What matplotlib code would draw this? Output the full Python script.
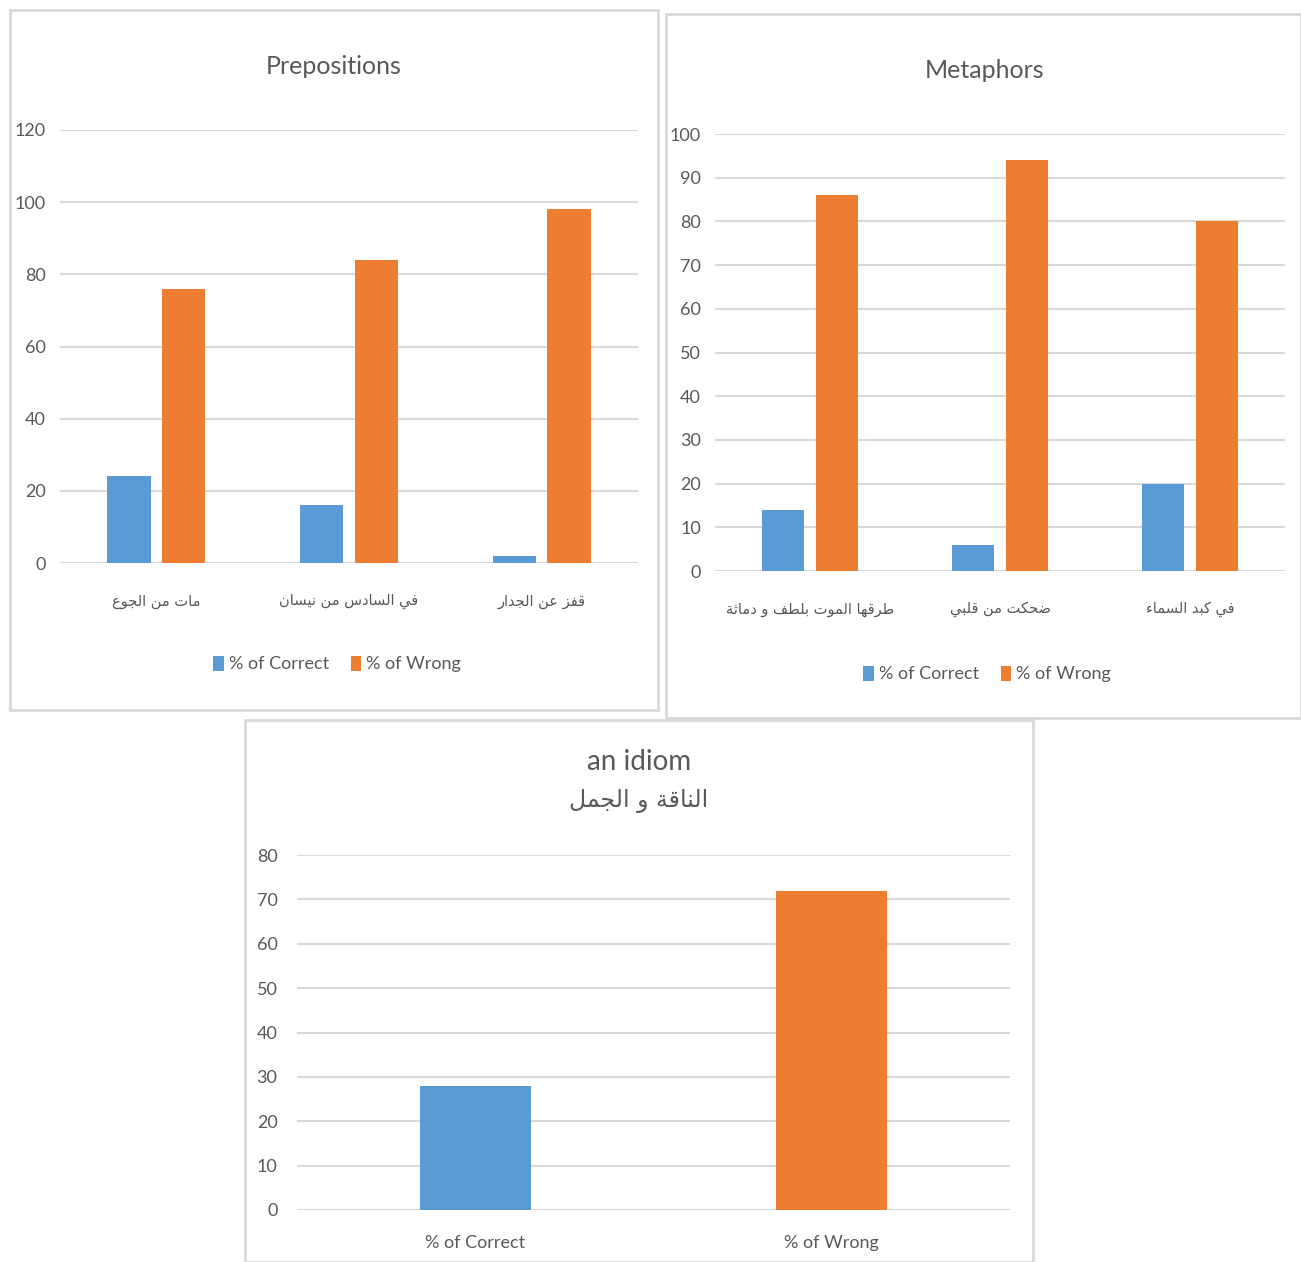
import numpy as np
import matplotlib
matplotlib.use("Agg")
import matplotlib.pyplot as plt
from matplotlib import font_manager
from matplotlib.patches import Rectangle

#   Data
prep_labels = ["مات من الجوع", "في السادس من نيسان", "قفز عن الجدار"]
prep_correct = [24, 16, 2]
prep_wrong = [76, 84, 98]

meta_labels = ["طرقها الموت بلطف و دماثة", "ضحكت من قلبي", "في كبد السماء"]
meta_correct = [14, 6, 20]
meta_wrong = [86, 94, 80]

idiom_labels = ["% of Correct", "% of Wrong"]
idiom_values = [28, 72]
idiom_title = "an idiom"
idiom_arabic = "الناقة و الجمل"

series_names = ["% of Correct", "% of Wrong"]
BLUE = "#5B9BD5"
ORANGE = "#ED7D31"
GRID = "#d9d9d9"
TXT = "#595959"

#   Minimal Arabic shaping: map each letter to its presentation form and
#   reverse to visual order (matplotlib does no shaping of its own)
AR_BASE = {
    "\u0621": (0xFE80, 1), "\u0627": (0xFE8D, 2), "\u0628": (0xFE8F, 4),
    "\u0629": (0xFE93, 2), "\u062A": (0xFE95, 4), "\u062B": (0xFE99, 4),
    "\u062C": (0xFE9D, 4), "\u062D": (0xFEA1, 4), "\u062F": (0xFEA9, 2),
    "\u0631": (0xFEAD, 2), "\u0632": (0xFEAF, 2), "\u0633": (0xFEB1, 4),
    "\u0636": (0xFEBD, 4), "\u0637": (0xFEC1, 4), "\u0639": (0xFEC9, 4),
    "\u0641": (0xFED1, 4), "\u0642": (0xFED5, 4), "\u0643": (0xFED9, 4),
    "\u0644": (0xFEDD, 4), "\u0645": (0xFEE1, 4), "\u0646": (0xFEE5, 4),
    "\u0647": (0xFEE9, 4), "\u0648": (0xFEED, 2), "\u064A": (0xFEF1, 4),
}


def shape(text):
    out = []
    for i, ch in enumerate(text):
        if ch not in AR_BASE:
            out.append(ch)
            continue
        base, n = AR_BASE[ch]
        prev = text[i - 1] if i > 0 else ""
        nxt = text[i + 1] if i + 1 < len(text) else ""
        join_prev = prev in AR_BASE and AR_BASE[prev][1] == 4 and n >= 2
        join_next = n == 4 and nxt in AR_BASE and AR_BASE[nxt][1] >= 2
        if join_prev and join_next:
            code = base + 3
        elif join_prev:
            code = base + 1
        elif join_next:
            code = base + 2
        else:
            code = base
        out.append(chr(code))
    return "".join(reversed(out))


names = {f.name for f in font_manager.fontManager.ttflist}
NORMAL = "Lato" if "Lato" in names else "DejaVu Sans"
ARABIC = ["DejaVu Sans"]

W, H = 1301, 1262
fig = plt.figure(figsize=(W / 100, H / 100), dpi=100)


def px_rect(x0, y0, x1, y1):
    # convert pixel box (top-left origin) to figure fraction
    return [x0 / W, 1 - y1 / H, (x1 - x0) / W, (y1 - y0) / H]


def panel_border(x0, y0, x1, y1):
    fig.patches.append(Rectangle((x0 / W, 1 - y1 / H), (x1 - x0) / W, (y1 - y0) / H,
                                 transform=fig.transFigure, fill=False,
                                 edgecolor=GRID, lw=2))


def style_axes(ax, ymax, step, fsize):
    ax.set_ylim(0, ymax)
    ax.set_yticks(np.arange(0, ymax + 1, step))
    ax.yaxis.grid(True, color=GRID, lw=1.5)
    ax.set_axisbelow(True)
    for s in ax.spines.values():
        s.set_visible(False)
    ax.tick_params(length=0, colors=TXT)
    for t in ax.get_yticklabels():
        t.set_fontfamily(NORMAL)
        t.set_fontsize(fsize)
        t.set_color(TXT)


def grouped(ax, labels, correct, wrong, ymax, step, title, title_pos, leg_pos, xpad):
    x = np.arange(len(labels))
    w = 0.225
    ax.bar(x - 0.142, correct, w, color=BLUE, label=series_names[0])
    ax.bar(x + 0.142, wrong, w, color=ORANGE, label=series_names[1])
    ax.set_xlim(-0.5, len(labels) - 0.5)
    style_axes(ax, ymax, step, 13)
    ax.set_xticks(x)
    ax.set_xticklabels([shape(l) for l in labels], family=ARABIC, fontsize=10.5, color=TXT)
    ax.tick_params(axis="x", pad=xpad)
    ax.tick_params(axis="y", pad=10)
    fig.text(title_pos[0] / W, 1 - title_pos[1] / H, title, ha="center", va="center",
             family=NORMAL, fontsize=18, color=TXT)
    fig.legend(*ax.get_legend_handles_labels(), loc="center",
               bbox_to_anchor=(leg_pos[0] / W, 1 - leg_pos[1] / H), ncol=2, frameon=False,
               prop={"family": NORMAL, "size": 13}, handlelength=0.6, handleheight=0.9,
               handletextpad=0.25, columnspacing=1.2, labelcolor=TXT)


# Panel 1: Prepositions
panel_border(10, 10, 658, 710)
ax1 = fig.add_axes(px_rect(60, 130, 638, 563))
grouped(ax1, prep_labels, prep_correct, prep_wrong, 120, 20, "Prepositions",
        (334, 66), (337, 664), 22)

# Panel 2: Metaphors
panel_border(666, 14, 1301, 718)
ax2 = fig.add_axes(px_rect(715, 134, 1285, 571))
grouped(ax2, meta_labels, meta_correct, meta_wrong, 100, 10, "Metaphors",
        (985, 70), (987, 674), 22)

# Panel 3: idiom
panel_border(245, 720, 1033, 1262)
ax3 = fig.add_axes(px_rect(297, 855, 1010, 1210))
x3 = np.arange(len(idiom_labels))
ax3.bar(x3, idiom_values, 0.31, color=[BLUE, ORANGE])
ax3.set_xlim(-0.5, len(idiom_labels) - 0.5)
style_axes(ax3, 80, 10, 13)
ax3.set_xticks(x3)
ax3.set_xticklabels(idiom_labels, family=NORMAL, fontsize=13, color=TXT)
ax3.tick_params(axis="x", pad=18)
ax3.tick_params(axis="y", pad=14)
fig.text(639 / W, 1 - 762 / H, idiom_title, ha="center", va="center",
         family=NORMAL, fontsize=20, color=TXT)
fig.text(639 / W, 1 - 801 / H, shape(idiom_arabic), ha="center", va="center",
         family=ARABIC, fontsize=17, color=TXT)

fig.savefig("out.png", dpi=100)
